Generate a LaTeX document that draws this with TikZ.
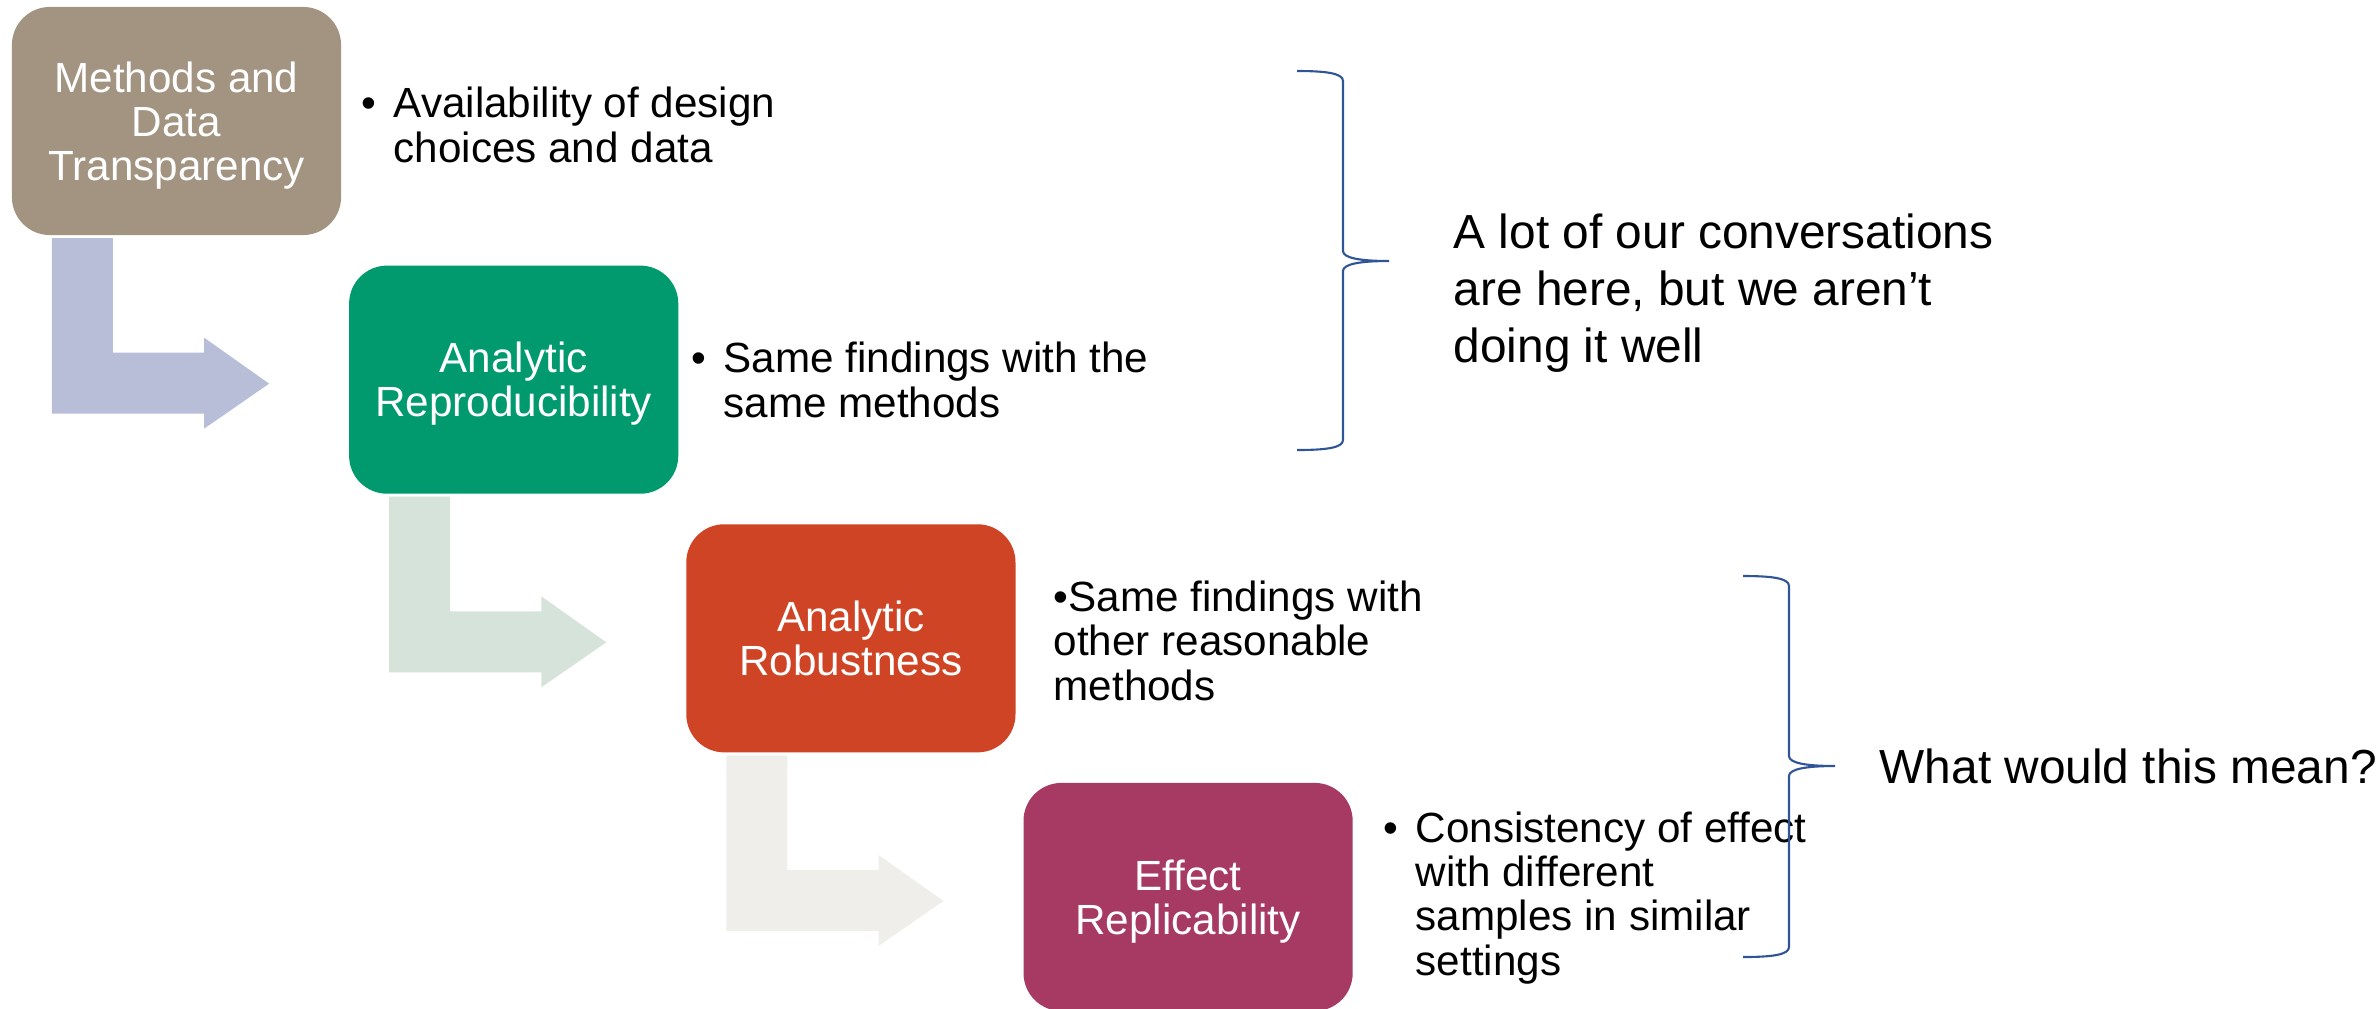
\documentclass[tikz,border=0pt]{standalone}
\usepackage{fontspec}
\setmainfont{Liberation Sans}
\usetikzlibrary{positioning,calc}
\definecolor{stagetaupe}{RGB}{163,148,130}
\definecolor{stagegreen}{RGB}{0,154,110}
\definecolor{stagered}{RGB}{208,68,38}
\definecolor{stageplum}{RGB}{166,58,99}
\definecolor{arrowblue}{RGB}{184,189,216}
\definecolor{arrowgreen}{RGB}{214,227,218}
\definecolor{arrowgrey}{RGB}{239,238,235}
\definecolor{braceblue}{RGB}{47,85,151}

\begin{document}
\begin{tikzpicture}[
        % one unit is one pixel of the slide, y grows downwards
        x=0.01cm, y=-0.01cm,
        stage/.style={rectangle, rounded corners=0.38cm, fill=#1, text=white,
            minimum width=3.29cm, minimum height=2.28cm, inner sep=0pt, outer sep=0pt,
            text depth=0pt, align=center, font=\fontsize{12}{12.5}\selectfont},
        % notes are placed at the baseline of their last line
        note/.style={anchor=base west, align=left, inner sep=0pt,
            font=\fontsize{12}{12.6}\selectfont},
        remark/.style={anchor=base west, align=left, inner sep=0pt,
            font=\fontsize{13.6}{16.2}\selectfont},
        curly/.style={draw=braceblue, line width=0.6pt}
    ]
        \useasboundingbox (0,0) rectangle (2379,1008);

        % Stages
        \node[stage=stagetaupe] (trans) at (176.5,121) {Methods and\\Data\\Transparency};
        \node[stage=stagegreen, below right=0.305cm and 0.08cm of trans] (repro) {Analytic\\Reproducibility};
        \node[stage=stagered, below right=0.305cm and 0.08cm of repro] (robust) {Analytic\\Robustness};
        \node[stage=stageplum, below right=0.305cm and 0.08cm of robust] (replic) {Effect\\Replicability};

        % Bent arrows between the stages
        \foreach \from/\to/\col in {trans/repro/arrowblue, repro/robust/arrowgreen, robust/replic/arrowgrey}{
            \coordinate (s) at ($(\from.south west)+(40,3)$);
            \coordinate (h) at ($(\to.west)+(-145,0)$);
            \fill[\col] (s) -- ++(61,0) |- ($(h)+(0,-27)$) -- ++(0,-15)
                -- ($(\to.west)+(-80,4)$) -- ($(h)+(0,49)$) -- ++(0,-15) -| (s) -- cycle;
        }

        % Bullets
        \node[note] (avail) at (393,162) {\llap{\textbullet\hspace{0.17cm}}Availability of design\\choices and data};
        \node[note] (same) at (723,417) {\llap{\textbullet\hspace{0.17cm}}Same findings with the\\same methods};
        \node[note] (other) at (1053,700) {\textbullet Same findings with\\other reasonable\\methods};
        \node[note] (consist) at (1415,975) {\llap{\textbullet\hspace{0.17cm}}Consistency of effect\\with different\\samples in similar\\settings};

        % Braces and remarks
        \foreach \bx/\ya/\ym/\yb in {1297/71/261/450, 1743/576/766/957}
            \draw[curly] (\bx,\ya) .. controls (\bx+28,\ya) and (\bx+46,\ya+2) .. (\bx+46,\ya+10)
                -- (\bx+46,\ym-10) .. controls (\bx+46,\ym-3) and (\bx+63,\ym) .. (\bx+92,\ym)
                .. controls (\bx+63,\ym) and (\bx+46,\ym+3) .. (\bx+46,\ym+10)
                -- (\bx+46,\yb-10) .. controls (\bx+46,\yb-2) and (\bx+28,\yb) .. (\bx,\yb);
        \node[remark] (talk) at (1453,362) {A lot of our conversations\\are here, but we aren’t\\doing it well};
        \node[remark] (mean) at (1879,783) {What would this mean?};
    \end{tikzpicture}
\end{document}
